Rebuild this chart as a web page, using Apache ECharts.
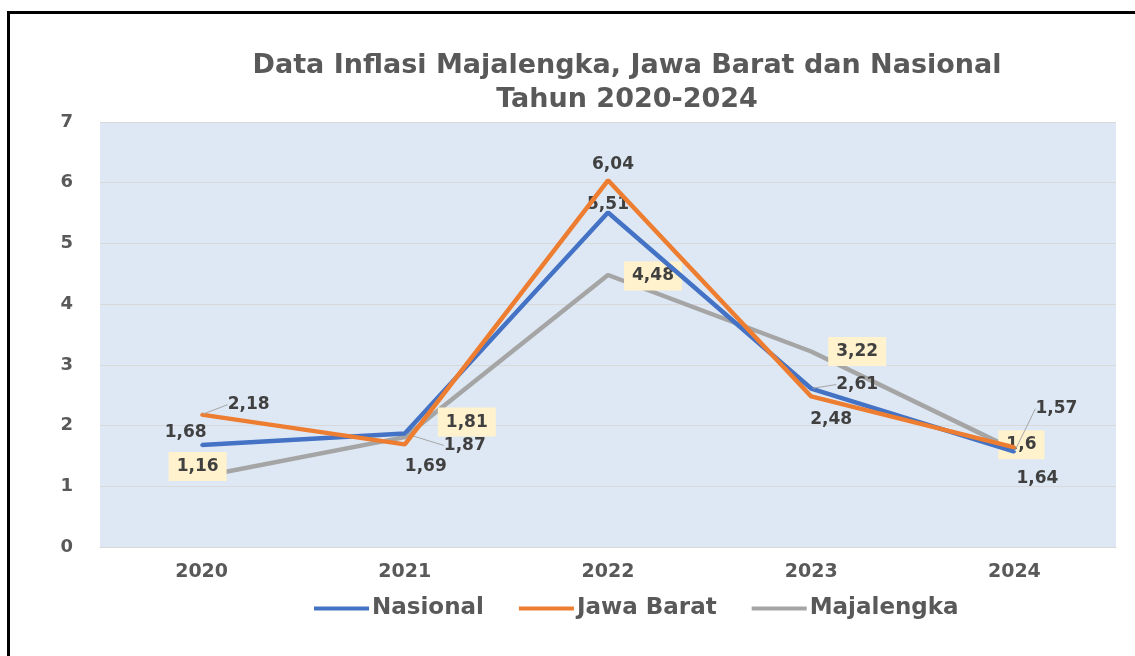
<!DOCTYPE html>
<html>
<head>
<meta charset="utf-8">
<script src="https://cdn.jsdelivr.net/npm/echarts@6/dist/echarts.min.js"></script>
<style>
  html, body { margin: 0; padding: 0; background: #fff; }
  .frame {
    position: absolute; left: 7px; top: 11px;
    width: 1200px; height: 700px;
    border: 3px solid #000;
  }
  #chart { position: absolute; left: 0; top: 0; width: 1135px; height: 656px; }
</style>
</head>
<body>
<div class="frame"></div>
<div id="chart"></div>
<script>
  // data inflasi (%)
  var tahun = ['2020', '2021', '2022', '2023', '2024'];
  var nasional = [1.68, 1.87, 5.51, 2.61, 1.57];
  var jawaBarat = [2.18, 1.69, 6.04, 2.48, 1.64];
  var majalengka = [1.16, 1.81, 4.48, 3.22, 1.6];
  var yTicks = [0, 1, 2, 3, 4, 5, 6, 7];

  // geser label (dx, dy) per titik
  var geserLabel = [
    [[-16, -12], [60, 12], [0, -8], [46, -4], [42, -43]],
    [[47, -10], [21, 22], [5, -16], [20, 23], [23, 31]],
    [[-4, -10], [62, -15], [45, 1], [46, 0], [7, -5]]
  ];
  var pakaiGaris = [
    [false, true, false, true, true],
    [true, false, false, false, false],
    [false, false, false, false, false]
  ];

  var font = '"DejaVu Sans", "Open Sans", sans-serif';

  function fmt(v) { return String(v).replace('.', ','); }

  function buatData(arr, si) {
    return arr.map(function (v, i) {
      return { value: v, labelLine: { show: pakaiGaris[si][i] } };
    });
  }

  var warna = ['#4472C4', '#ED7D31', '#A5A5A5'];

  function seri(nama, arr, si) {
    var label = {
      show: true,
      position: 'inside',
      formatter: function (p) { return fmt(p.value); },
      color: '#404040',
      fontFamily: font,
      fontWeight: 'bold',
      fontSize: 17
    };
    if (si === 2) {
      label.backgroundColor = '#FFF2CC';
      label.padding = [7, 8, 5, 8];
    }
    return {
      name: nama,
      type: 'line',
      data: buatData(arr, si),
      symbol: 'circle',
      symbolSize: 3,
      showSymbol: true,
      lineStyle: { width: 4.5, color: warna[si] },
      itemStyle: { color: warna[si] },
      label: label,
      labelLine: { show: false, lineStyle: { color: '#A6A6A6', width: 1 } },
      labelLayout: function (p) {
        var g = geserLabel[si][p.dataIndex];
        return { dx: g[0], dy: g[1] };
      },
      z: si === 2 ? 1 : (si === 0 ? 2 : 3),
      emphasis: { disabled: true }
    };
  }

  var myChart = echarts.init(document.getElementById('chart'));
  var option = {
    animation: false,
    textStyle: { fontFamily: font },
    title: {
      text: 'Data Inflasi Majalengka, Jawa Barat dan Nasional\nTahun 2020-2024',
      left: 622,
      textAlign: 'center',
      top: 44,
      textStyle: {
        color: '#595959',
        fontFamily: font,
        fontWeight: 'bold',
        fontSize: 27,
        lineHeight: 34
      }
    },
    legend: {
      top: 592,
      left: 309,
      itemWidth: 55,
      itemHeight: 4,
      itemGap: 35,
      icon: 'rect',
      textStyle: { color: '#595959', fontFamily: font, fontWeight: 'bold', fontSize: 23, padding: [0, 0, 0, -2] },
      data: ['Nasional', 'Jawa Barat', 'Majalengka']
    },
    grid: {
      left: 100,
      right: 19,
      top: 122,
      bottom: 109,
      show: true,
      backgroundColor: '#DEE8F4',
      borderWidth: 0
    },
    xAxis: {
      type: 'category',
      data: tahun,
      boundaryGap: true,
      axisLine: { lineStyle: { color: '#D9D9D9', width: 1 } },
      axisTick: { show: false },
      axisLabel: { color: '#595959', fontFamily: font, fontWeight: 'bold', fontSize: 19, margin: 16 }
    },
    yAxis: {
      type: 'value',
      min: yTicks[0],
      max: yTicks[yTicks.length - 1],
      interval: 1,
      axisLine: { show: false },
      axisTick: { show: false },
      splitLine: { lineStyle: { color: '#D9D9D9', width: 1 } },
      axisLabel: { color: '#595959', fontFamily: font, fontWeight: 'bold', fontSize: 18, margin: 27 }
    },
    series: [
      seri('Nasional', nasional, 0),
      seri('Jawa Barat', jawaBarat, 1),
      seri('Majalengka', majalengka, 2)
    ]
  };
  myChart.setOption(option);
</script>
</body>
</html>
